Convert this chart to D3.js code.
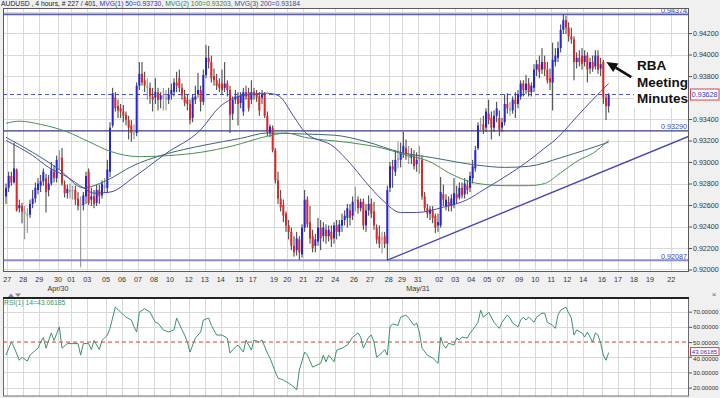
<!DOCTYPE html>
<html><head><meta charset="utf-8">
<script src="https://cdn.jsdelivr.net/npm/d3@7"></script>
<style>
body{margin:0;background:#f0f0f0;}
svg{display:block;font-family:"Liberation Sans",Arial,sans-serif;}
</style></head><body>
<svg id="c" width="720" height="398"></svg>
<script>
// ---- DATA (AUDUSD 4h candles) ----
const opens = [
.9268,.9276,.9287,.9281,.9293,.9257, .9259,.9254,.9252,.9251,.9261,.9266, .9274,.9278,.9282,.9285,.9274,.9280,
.9291,.9285,.9302,.9304,.9279,.9271, .9274,.9273,.9274,.9266,.9259,.9260, .9268,.9291,.9265,.9268,.9262,.9274,
.9269,.9278,.9276,.9291,.9334,.9360, .9352,.9350,.9347,.9344,.9339,.9334, .9327,.9327,.9371,.9382,.9376,.9371,
.9369,.9361,.9360,.9365,.9358,.9362, .9360,.9358,.9363,.9365,.9374,.9378, .9369,.9361,.9358,.9354,.9341,.9358,
.9363,.9367,.9356,.9381,.9397,.9393, .9380,.9376,.9373,.9373,.9369,.9373, .9367,.9345,.9358,.9361,.9355,.9347,
.9365,.9365,.9358,.9365,.9363,.9361, .9360,.9363,.9343,.9327,.9332,.9311, .9283,.9266,.9260,.9252,.9241,.9235,
.9222,.9218,.9228,.9214,.9239,.9265, .9244,.9231,.9222,.9226,.9239,.9231, .9237,.9231,.9235,.9229,.9241,.9235,
.9241,.9246,.9248,.9255,.9250,.9263, .9265,.9257,.9263,.9241,.9255,.9261, .9254,.9239,.9231,.9228,.9231,.9224,
.9276,.9296,.9291,.9304,.9302,.9309, .9313,.9306,.9304,.9306,.9298,.9302, .9302,.9268,.9257,.9252,.9255,.9250,
.9241,.9241,.9270,.9259,.9263,.9259, .9260,.9270,.9267,.9276,.9270,.9278, .9276,.9285,.9294,.9313,.9334,.9335,
.9332,.9345,.9341,.9332,.9343,.9341, .9332,.9337,.9354,.9350,.9348,.9358, .9354,.9361,.9373,.9367,.9373,.9365,
.9369,.9386,.9391,.9386,.9393,.9386, .9378,.9374,.9393,.9397,.9406,.9423, .9432,.9425,.9417,.9414,.9393,.9397,
.9399,.9393,.9399,.9387,.9393,.9389, .9399,.9387,.9393,.9360,.9352];
const highs = [
.9280,.9291,.9291,.9318,.9294,.9265, .9262,.9259,.9257,.9265,.9274,.9281, .9285,.9288,.9294,.9289,.9288,.9300,
.9297,.9306,.9311,.9313,.9283,.9279, .9280,.9278,.9278,.9272,.9268,.9272, .9291,.9294,.9276,.9274,.9279,.9279,
.9283,.9285,.9302,.9337,.9369,.9365, .9358,.9354,.9353,.9347,.9343,.9339, .9335,.9374,.9393,.9393,.9384,.9378,
.9374,.9369,.9378,.9369,.9365,.9369, .9367,.9369,.9373,.9378,.9384,.9386, .9373,.9367,.9363,.9358,.9363,.9371,
.9383,.9371,.9386,.9409,.9408,.9399, .9387,.9382,.9378,.9386,.9393,.9376, .9371,.9361,.9367,.9365,.9365,.9369,
.9371,.9369,.9376,.9369,.9367,.9365, .9367,.9365,.9347,.9335,.9334,.9313, .9291,.9274,.9265,.9254,.9246,.9239,
.9231,.9235,.9231,.9242,.9274,.9268, .9259,.9237,.9233,.9248,.9246,.9244, .9242,.9241,.9241,.9244,.9246,.9246,
.9252,.9255,.9261,.9261,.9268,.9277, .9268,.9266,.9266,.9261,.9269,.9266, .9263,.9242,.9241,.9235,.9235,.9278,
.9300,.9302,.9311,.9319,.9318,.9328, .9321,.9315,.9313,.9311,.9309,.9315, .9306,.9272,.9261,.9259,.9259,.9252,
.9252,.9286,.9279,.9270,.9268,.9270, .9285,.9278,.9281,.9281,.9285,.9283, .9291,.9302,.9315,.9337,.9341,.9343,
.9350,.9358,.9347,.9348,.9356,.9348, .9341,.9363,.9364,.9356,.9361,.9365, .9367,.9376,.9376,.9381,.9378,.9374,
.9391,.9395,.9399,.9406,.9399,.9393, .9387,.9411,.9406,.9412,.9428,.9437, .9436,.9430,.9425,.9417,.9402,.9404,
.9406,.9404,.9402,.9397,.9399,.9404, .9404,.9397,.9395,.9363,.9364];
const lows = [
.9261,.9272,.9278,.9280,.9254,.9253, .9243,.9228,.9234,.9248,.9257,.9262, .9270,.9272,.9278,.9253,.9268,.9278,
.9281,.9281,.9293,.9278,.9267,.9266, .9266,.9265,.9260,.9255,.9202,.9255, .9261,.9260,.9259,.9257,.9259,.9261,
.9266,.9271,.9271,.9286,.9332,.9347, .9341,.9341,.9337,.9334,.9321,.9319, .9321,.9324,.9367,.9371,.9365,.9358,
.9354,.9347,.9354,.9348,.9350,.9348, .9348,.9354,.9358,.9361,.9365,.9365, .9358,.9352,.9348,.9335,.9337,.9354,
.9360,.9347,.9353,.9378,.9387,.9374, .9371,.9367,.9365,.9363,.9365,.9361, .9327,.9339,.9354,.9334,.9350,.9343,
.9358,.9347,.9354,.9358,.9356,.9343, .9354,.9341,.9324,.9323,.9309,.9280, .9261,.9254,.9244,.9235,.9228,.9218,
.9212,.9213,.9209,.9211,.9235,.9239, .9224,.9216,.9216,.9222,.9218,.9226, .9224,.9226,.9221,.9224,.9228,.9231,
.9235,.9241,.9239,.9241,.9246,.9254, .9252,.9254,.9237,.9235,.9250,.9248, .9237,.9224,.9220,.9215,.9220,.92087,
.9272,.9276,.9287,.9294,.9295,.9304, .9302,.9298,.9298,.9293,.9291,.9289, .9265,.9254,.9248,.9246,.9243,.9234,
.9235,.9239,.9259,.9255,.9254,.9254, .9257,.9261,.9265,.9266,.9266,.9270, .9272,.9280,.9291,.9311,.9328,.9326,
.9328,.9335,.9321,.9328,.9337,.9324, .9328,.9334,.9345,.9343,.9345,.9341, .9350,.9358,.9361,.9363,.9361,.9361,
.9365,.9380,.9378,.9382,.9380,.9373, .9367,.9348,.9389,.9393,.9402,.9419, .9419,.9412,.9410,.9376,.9387,.9389,
.9386,.9389,.9374,.9382,.9384,.9386, .9382,.9380,.9354,.9339,.9346];
const closes = [
.9276,.9287,.9281,.9294,.9255,.9260, .9254,.9252,.9250,.9261,.9266,.9276, .9280,.9282,.9291,.9272,.9280,.9293,
.9285,.9302,.9304,.9280,.9271,.9275, .9272,.9274,.9265,.9259,.9261,.9269, .9287,.9262,.9268,.9261,.9274,.9268,
.9280,.9276,.9293,.9332,.9364,.9350, .9348,.9347,.9343,.9339,.9332,.9327, .9326,.9371,.9382,.9374,.9371,.9369,
.9361,.9358,.9365,.9358,.9362,.9360, .9358,.9363,.9367,.9374,.9371,.9369, .9362,.9355,.9354,.9339,.9360,.9361,
.9367,.9356,.9381,.9397,.9393,.9378, .9376,.9371,.9369,.9367,.9373,.9367, .9344,.9358,.9361,.9354,.9362,.9365,
.9361,.9350,.9365,.9362,.9360,.9348, .9363,.9343,.9328,.9333,.9311,.9283, .9266,.9258,.9250,.9241,.9235,.9222,
.9216,.9229,.9216,.9239,.9265,.9242, .9229,.9220,.9228,.9239,.9229,.9239, .9231,.9237,.9228,.9241,.9235,.9242,
.9246,.9250,.9257,.9248,.9263,.9265, .9257,.9263,.9241,.9255,.9261,.9252, .9241,.9228,.9224,.9229,.9224,.9274,
.9296,.9293,.9302,.9302,.9309,.9315, .9306,.9304,.9307,.9296,.9302,.9304, .9268,.9257,.9252,.9256,.9248,.9239,
.9244,.9272,.9265,.9265,.9259,.9266, .9271,.9266,.9276,.9269,.9280,.9274, .9287,.9296,.9311,.9334,.9335,.9330,
.9347,.9339,.9332,.9343,.9350,.9330, .9337,.9354,.9350,.9348,.9358,.9354, .9363,.9373,.9367,.9373,.9365,.9371,
.9386,.9391,.9384,.9393,.9386,.9376, .9374,.9395,.9399,.9406,.9423,.9432, .9425,.9417,.9414,.9393,.9397,.9393,
.9391,.9399,.9386,.9393,.9387,.9399, .9386,.9391,.9360,.9352,.93628];

// moving averages (bar index, value)
const ma50Bars = [0,10,16,23,29,33,39,48,60,73,80,89,98,102,108,112,123,129,135,141,148,154,164,173,179,185,198,201,207,214,220,226];
const ma50Vals = [.9320,.9306,.9295,.9286,.9276,.9271,.9272,.9286,.9308,.9330,.9351,.9362,.9364,.9362,.9342,.9328,.9314,.9299,.9281,.9265,.9253,.9253,.9258,.9265,.9274,.9283,.9305,.9311,.9323,.9342,.9358,.93730];
const ma100Bars = [0,5,13,23,31,39,50,61,73,85,98,105,112,129,141,148,160,166,177,187,196,202,208,215,220,226];
const ma100Vals = [.9336,.9338,.9335,.9328,.9319,.9310,.9305,.9306,.9309,.9315,.9324,.9327,.9323,.9318,.9313,.9308,.9299,.9290,.9280,.9278,.9278,.9280,.9290,.9302,.9308,.93203];
const ma200Bars = [0,10,20,29,37,48,58,75,88,98,112,123,135,148,160,177,187,196,208,217,226];
const ma200Vals = [.9323,.9309,.9293,.9276,.9282,.9297,.9306,.9316,.9322,.9327,.9326,.9325,.9319,.9309,.9304,.9297,.9295,.9296,.9304,.9311,.93184];

// RSI(14)
const rsiBars = [0,2,3,5,6,8,9,12,13,14,15,17,18,20,21,23,27,28,29,31,32,33,35,36,38,39,41,43,45,47,48,49,50,52,54,56,57,59,61,63,64,66,67,68,69,71,73,74,76,77,79,81,83,84,86,87,89,90,92,93,95,96,98,99,101,102,104,106,108,109,110,112,113,115,118,119,120,121,123,124,126,128,130,132,133,134,136,137,138,139,141,142,143,144,145,147,148,150,151,153,154,155,156,158,160,162,163,164,165,166,168,169,170,171,173,174,175,177,178,179,180,181,183,184,185,186,188,189,190,192,193,194,195,196,198,199,201,202,203,205,206,207,208,210,211,212,213,214,216,217,218,220,221,222,223,224,225,226];
const rsiVals = [41.4,50,46.7,38,40,37.5,41.4,46,50,53,46,56,51,60,46,49,49,41.4,49,49,45,51,45,51,54.6,59,73,69.7,66.4,64.5,60,56.6,69.7,72,69.7,63,62.5,58,56.6,58,65.8,58,54.6,50,43.4,52.6,56.6,64.5,65.8,61,54.6,54.6,52.6,42.8,46.7,48,43.4,51.3,44.7,51.3,50,51.3,42.8,39.5,30.3,26.3,25,23,20.4,18.4,31.6,43.4,41.4,33.5,36,41.4,37,41.4,37,44.7,46,48,53.3,56,53.3,46,53.3,54.6,50,40,43,45,41.4,60,62,61,66.4,67.8,65.8,61,62.5,56.6,46,41.4,39.5,36,53.3,48,46,49.3,48,52.6,51.3,53.3,52.6,56,58,63,71,66.4,67.8,69.7,63,61,59,63,67.8,65.8,62.5,60,64.5,66.4,64.5,66.4,63,66.4,69,69,63,61,59,67.8,71,73,69,65.8,54.6,58,56,53.3,56.6,50,56,54.6,49.3,41.4,38,43.06185];

// price levels and trendline
const levelVals = [0.94374, 0.93290, 0.92087];
const currentPrice = 0.93628;
const trendBars = [143, 256.125];
const trendVals = [0.92087, 0.9324];

// axis ticks
const priceTicks = [0.920,0.922,0.924,0.926,0.928,0.930,0.932,0.934,0.936,0.938,0.940,0.942,0.944];
const rsiTicks = [20,30,40,50,60,70];
const dayLabels = ["27","28","29","30","01","03","05","06","07","08","10","12","13","14","15","17","19","20","21","22","24","26","27","28","29","31","02","03","04","05","07","09","10","11","12","14","16","17","18","19","22"];
const dayBars = [1,7,13,20,25,31,38,44,50,56,62,69,75,81,88,93,101,106,112,118,124,131,137,144,149,155,163,169,175,181,186,193,199,205,211,217,224,230,236,242,250];
const monthLabels = ["Apr/30","May/31"];
const monthBars = [20,155];

// ---- DRAW ----
const svg = d3.select("#c");
const P = {l:3, r:689, t:8, b:271};
const R = {l:3, r:689, t:298, b:396};
const x = d3.scaleLinear().domain([-1.125, 256.125]).range([P.l, P.r]);
const y = d3.scaleLinear().domain([0.91986, 0.94433]).range([P.b, P.t]);
const yr = d3.scaleLinear().domain([14.5, 79]).range([R.b, R.t]);

svg.append("rect").attr("width",720).attr("height",398).attr("fill","#f0f0f0");
const defs = svg.append("defs");
defs.append("clipPath").attr("id","cpMain").append("rect").attr("x",P.l).attr("y",P.t).attr("width",P.r-P.l).attr("height",P.b-P.t);
defs.append("clipPath").attr("id","cpRsi").append("rect").attr("x",R.l).attr("y",R.t).attr("width",R.r-R.l).attr("height",R.b-R.t);

// panels
svg.append("rect").attr("x",P.l).attr("y",P.t).attr("width",P.r-P.l).attr("height",P.b-P.t).attr("fill","#fff");
svg.append("rect").attr("x",R.l).attr("y",R.t).attr("width",R.r-R.l).attr("height",R.b-R.t).attr("fill","#fff");

const gridC = "#d9d9d9";
const gMain = svg.append("g").attr("clip-path","url(#cpMain)");
const gRsi = svg.append("g").attr("clip-path","url(#cpRsi)");

// grids
const vx = d => Math.round(x(d - 0.5)) + 0.5;
gMain.selectAll("line.vg").data(dayBars).join("line")
  .attr("x1",vx).attr("x2",vx).attr("y1",P.t).attr("y2",P.b).attr("stroke",gridC);
gMain.selectAll("line.hg").data(priceTicks).join("line")
  .attr("x1",P.l).attr("x2",P.r).attr("y1",d=>Math.round(y(d))+0.5).attr("y2",d=>Math.round(y(d))+0.5).attr("stroke",gridC);
gRsi.selectAll("line.vg").data(dayBars).join("line")
  .attr("x1",vx).attr("x2",vx).attr("y1",R.t).attr("y2",R.b).attr("stroke",gridC);
gRsi.selectAll("line.hg").data(rsiTicks.filter(v=>v!==50)).join("line")
  .attr("x1",R.l).attr("x2",R.r).attr("y1",d=>Math.round(yr(d))+0.5).attr("y2",d=>Math.round(yr(d))+0.5).attr("stroke",gridC);

// level lines
const levelStyle = [{c:"#5c5cbc",w:1.6},{c:"#3a3a86",w:1.1},{c:"#8c8cd2",w:2}];
gMain.selectAll("line.lvl").data(levelVals).join("line")
  .attr("x1",P.l).attr("x2",P.r).attr("y1",d=>y(d)).attr("y2",d=>y(d))
  .attr("stroke",(d,i)=>levelStyle[i].c).attr("stroke-width",(d,i)=>levelStyle[i].w);
gMain.append("line").attr("x1",P.l).attr("x2",P.r).attr("y1",y(currentPrice)).attr("y2",y(currentPrice))
  .attr("stroke","#5050c8").attr("stroke-dasharray","4,3").attr("stroke-width",1);
// trendline
gMain.append("line").attr("x1",x(trendBars[0])).attr("y1",y(trendVals[0])).attr("x2",x(trendBars[1])).attr("y2",y(trendVals[1]))
  .attr("stroke","#4646b0").attr("stroke-width",1.3);

// candles
const bars = d3.range(opens.length).map(i=>({i,o:opens[i],h:highs[i],l:lows[i],c:closes[i]}));
const flat = d => Math.abs(d.c-d.o) <= 0.00021;
const bodyCol = d => flat(d) ? "#a0a0a0" : (d.c>d.o ? "#2626d6" : "#e02626");
gMain.selectAll("line.wick").data(bars).join("line")
  .attr("x1",d=>x(d.i)).attr("x2",d=>x(d.i)).attr("y1",d=>y(d.h)).attr("y2",d=>y(d.l))
  .attr("stroke",d=>flat(d)?"#8a8a8a":"#3a3a3a").attr("stroke-width",1);
gMain.selectAll("rect.body").data(bars).join("rect")
  .attr("x",d=>x(d.i)-1).attr("width",2)
  .attr("y",d=>y(Math.max(d.o,d.c))).attr("height",d=>Math.max(1.2,Math.abs(y(d.o)-y(d.c))))
  .attr("fill",bodyCol);

// moving averages
const line = d3.line().x(d=>x(d[0])).y(d=>y(d[1])).curve(d3.curveMonotoneX);
gMain.append("path").attr("d",line(d3.zip(ma200Bars,ma200Vals))).attr("fill","none").attr("stroke","#3e6676").attr("stroke-width",1);
gMain.append("path").attr("d",line(d3.zip(ma100Bars,ma100Vals))).attr("fill","none").attr("stroke","#4a8f52").attr("stroke-width",1);
gMain.append("path").attr("d",line(d3.zip(ma50Bars,ma50Vals))).attr("fill","none").attr("stroke","#4b4bab").attr("stroke-width",1);

// level labels
gMain.selectAll("text.lv").data(levelVals).join("text")
  .attr("x",P.r-2).attr("y",d=>y(d)-1.5).attr("text-anchor","end")
  .attr("font-size",7.2).attr("fill","#4545b5").text(d=>d3.format(".5f")(d));

// RSI
gRsi.append("line").attr("x1",R.l).attr("x2",R.r).attr("y1",yr(50)).attr("y2",yr(50))
  .attr("stroke","#d03c3c").attr("stroke-dasharray","4,3").attr("stroke-width",1);
const rline = d3.line().x(d=>x(d[0])).y(d=>yr(d[1]));
gRsi.append("path").attr("d",rline(d3.zip(rsiBars,rsiVals))).attr("fill","none").attr("stroke","#3b9468").attr("stroke-width",1);
svg.append("text").attr("x",4).attr("y",305).attr("font-size",6.8).attr("fill","#3b9468")
  .text("RSI(1) 14=" + d3.format(".5f")(rsiVals[rsiVals.length-1]));

// panel borders
svg.append("rect").attr("x",P.l+0.5).attr("y",P.t+0.5).attr("width",P.r-P.l-1).attr("height",P.b-P.t).attr("fill","none").attr("stroke","#5a5a5a");
svg.append("rect").attr("x",R.l+0.5).attr("y",R.t).attr("width",R.r-R.l-1).attr("height",R.b-R.t).attr("fill","none").attr("stroke","#6a6a6a");
svg.append("line").attr("x1",R.l).attr("x2",R.r).attr("y1",R.t).attr("y2",R.t).attr("stroke","#222").attr("stroke-width",2);

// right axes
const fmt5 = d3.format(".5f");
const ax = svg.append("g").attr("transform",`translate(${P.r},0)`)
  .call(d3.axisRight(y).tickValues(priceTicks.filter(v=>v!==0.936 && v!==0.944)).tickFormat(fmt5).tickSize(3).tickPadding(1));
ax.select(".domain").remove();
ax.selectAll("line").attr("stroke","#555");
ax.selectAll("text").attr("font-size",7.1).attr("fill","#333").attr("font-family","Liberation Sans, Arial, sans-serif");

const axr = svg.append("g").attr("transform",`translate(${R.r},0)`)
  .call(d3.axisRight(yr).tickValues(rsiTicks.filter(v=>v!==40)).tickFormat(fmt5).tickSize(3).tickPadding(1));
axr.select(".domain").remove();
axr.selectAll("line").attr("stroke","#555");
axr.selectAll("text").attr("font-size",6.1).attr("fill","#333").attr("font-family","Liberation Sans, Arial, sans-serif");
// 40 label sits just below the RSI value box, as in the picture
svg.append("line").attr("x1",R.r).attr("x2",R.r+3).attr("y1",yr(40)).attr("y2",yr(40)).attr("stroke","#555");
svg.append("text").attr("x",R.r+4).attr("y",yr(40)+4.2).attr("font-size",6.1).attr("fill","#333").text(fmt5(40));

// current value boxes
function valBox(yy, txt, fs, h){
  svg.append("rect").attr("x",690.5).attr("y",yy-h/2).attr("width",28.5).attr("height",h).attr("fill","#fff").attr("stroke","#d04545");
  svg.append("text").attr("x",691.8).attr("y",yy+fs*0.36).attr("font-size",fs).attr("fill","#3333c0").text(txt);
}
valBox(y(currentPrice), fmt5(currentPrice), 7.1, 11);
valBox(yr(rsiVals[rsiVals.length-1]) - 1, fmt5(rsiVals[rsiVals.length-1]), 6.1, 8);

// bottom date labels
svg.selectAll("text.day").data(dayBars).join("text")
  .attr("x",d=>x(d-0.5)).attr("y",281.5).attr("text-anchor","middle")
  .attr("font-size",7.2).attr("fill","#333").text((d,i)=>dayLabels[i]);
svg.selectAll("text.mon").data(monthBars).join("text")
  .attr("x",d=>x(d-0.5)).attr("y",291).attr("text-anchor","middle")
  .attr("font-size",7.2).attr("fill","#333").text((d,i)=>monthLabels[i]);

// small panel icons
svg.append("path").attr("d","M8,297 L11,293.5 L14,297 Z M15,293.5 L21,293.5 L18,297 Z").attr("fill","#7d8c9c");
svg.append("text").attr("x",714).attr("y",297).attr("text-anchor","middle").attr("font-size",8).attr("fill","#666").text("×");

// title
const title = svg.append("text").attr("x",1).attr("y",6.4).attr("font-size",6.8);
title.append("tspan").attr("fill","#222").text("AUDUSD , 4 hours, # 227 / 401, ");
title.append("tspan").attr("fill","#3434c4").text("MVG(1) 50=" + fmt5(ma50Vals[ma50Vals.length-1]) + ", ");
title.append("tspan").attr("fill","#2f8a3a").text("MVG(2) 100=" + fmt5(ma100Vals[ma100Vals.length-1]) + ", ");
title.append("tspan").attr("fill","#34509a").text("MVG(3) 200=" + fmt5(ma200Vals[ma200Vals.length-1]));

// annotation
svg.append("rect").attr("x",634).attr("y",57).attr("width",54).attr("height",51).attr("fill","#fff");
const ann = svg.append("text").attr("font-size",13.5).attr("font-weight","bold").attr("fill","#111");
["RBA","Meeting","Minutes"].forEach((t,k)=>ann.append("tspan").attr("x",637).attr("y",70+k*16.5).text(t));
const tipX = x(224)+3, tipY = y(0.9393);
const tailX = tipX+25, tailY = tipY+15;
const ang = Math.atan2(tipY-tailY, tipX-tailX);
const hl = 11, hw = 5;
const bx = tipX - hl*Math.cos(ang), by = tipY - hl*Math.sin(ang);
svg.append("line").attr("x1",tailX).attr("y1",tailY).attr("x2",bx).attr("y2",by).attr("stroke","#111").attr("stroke-width",2.6);
svg.append("path").attr("d",`M${tipX},${tipY} L${bx - hw*Math.sin(ang)},${by + hw*Math.cos(ang)} L${bx + hw*Math.sin(ang)},${by - hw*Math.cos(ang)} Z`).attr("fill","#111");
</script>
</body></html>
